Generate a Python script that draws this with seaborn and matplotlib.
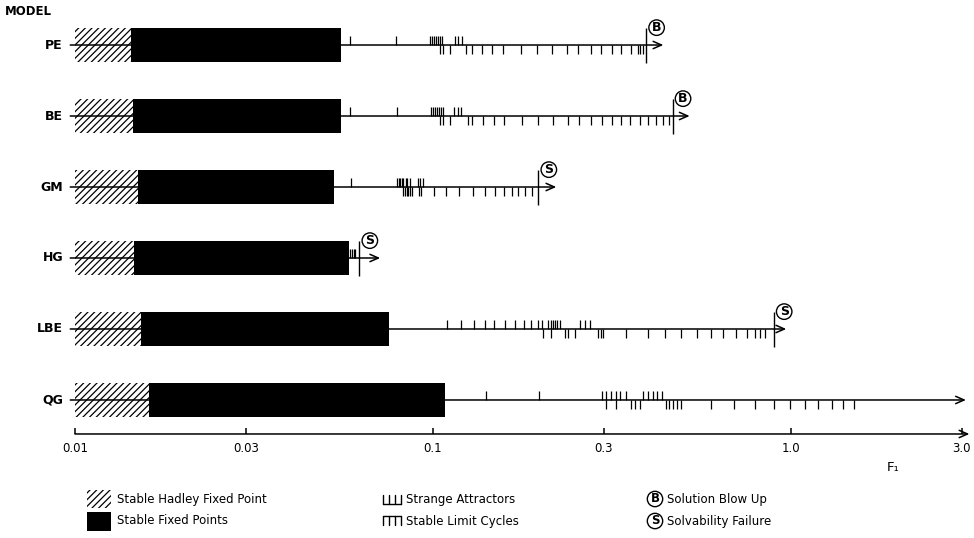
import matplotlib
matplotlib.use("Agg")
import matplotlib.pyplot as plt
import seaborn as sns
from matplotlib.patches import Rectangle
from matplotlib.lines import Line2D

# ---------------------------------------------------------------------------
# data (F1 values)
# ---------------------------------------------------------------------------
models = ["PE", "BE", "GM", "HG", "LBE", "QG"]

hadley_start = 0.01
hadley_end = [0.0143, 0.0145, 0.0150, 0.0146, 0.0153, 0.0161]
fixed_end = [0.0552, 0.0555, 0.0528, 0.0584, 0.0755, 0.108]
range_end = [0.44, 0.521, 0.221, 0.0712, 0.970, 3.08]
failure_at = [0.394, 0.467, 0.197, 0.0623, 0.895, None]
failure_kind = ["B", "B", "S", "S", "S", None]

# strange attractors (ticks above the line)
pe_attractors = [0.0587, 0.0788, 0.0981, 0.0994, 0.1006, 0.1019, 0.1032, 0.1045, 0.1061,
                 0.1151, 0.1176, 0.1202]
be_attractors = [0.0587, 0.0793, 0.0986, 0.0999, 0.1012, 0.1025, 0.1040, 0.1056, 0.1068,
                 0.1148, 0.1172, 0.1197]
gm_attractors = [0.0591, 0.0793, 0.0801, 0.0810, 0.0819, 0.0827, 0.0840, 0.0848, 0.0861,
                 0.0909, 0.0920, 0.0938]
hg_attractors = [0.0588, 0.0594, 0.0600, 0.0606]
lbe_attractors = [0.1096, 0.1194, 0.1300, 0.1401, 0.1477, 0.1592, 0.1690, 0.1790, 0.1881,
                  0.1961, 0.2012, 0.2100, 0.2131, 0.2159, 0.2192, 0.2225, 0.2263,
                  0.2572, 0.2656, 0.2742]
qg_attractors = [0.1403, 0.1974, 0.2969, 0.3050, 0.3139, 0.3243, 0.3331, 0.3465,
                 0.3868, 0.3999, 0.4105, 0.4225, 0.4348]

# stable limit cycles (ticks below the line)
pe_cycles = [0.1045, 0.1068, 0.1115, 0.1233, 0.1281, 0.1370, 0.1461, 0.1568, 0.1764,
             0.1949, 0.2154, 0.2361, 0.2544, 0.2760, 0.2954, 0.3162, 0.3356, 0.3578,
             0.3735, 0.3790, 0.3855]
be_cycles = [0.1045, 0.1068, 0.1115, 0.1253, 0.1286, 0.1380, 0.1484, 0.1582, 0.1771,
             0.1970, 0.2168, 0.2376, 0.2556, 0.2771, 0.2967, 0.3162, 0.3343, 0.3541,
             0.3776, 0.3981, 0.4200, 0.4384, 0.4576]
gm_cycles = [0.0827, 0.0836, 0.0845, 0.0854, 0.0863, 0.0876, 0.0914, 0.0928, 0.1006,
             0.1085, 0.1181, 0.1294, 0.1401, 0.1487, 0.1575, 0.1661, 0.1733, 0.1809,
             0.1888]
hg_cycles = []
lbe_cycles = [0.2034, 0.2137, 0.2337, 0.2387, 0.2491, 0.2892, 0.2942, 0.2985, 0.3465,
              0.3981, 0.4448, 0.4926, 0.5458, 0.5969, 0.6474, 0.7003, 0.7547, 0.7958,
              0.8216, 0.8483]
qg_cycles = [0.3050, 0.3243, 0.3581, 0.3662, 0.3785, 0.4465, 0.4566, 0.4687, 0.4803,
             0.4929, 0.5973, 0.6940, 0.7958, 0.8948, 0.9924, 1.0957, 1.1916, 1.3016,
             1.4000, 1.4951]

attractors = [pe_attractors, be_attractors, gm_attractors, hg_attractors,
              lbe_attractors, qg_attractors]
cycles = [pe_cycles, be_cycles, gm_cycles, hg_cycles, lbe_cycles, qg_cycles]

axis_ticks = [0.01, 0.03, 0.1, 0.3, 1.0, 3.0]
axis_labels = ["0.01", "0.03", "0.1", "0.3", "1.0", "3.0"]
axis_end = 3.15

# ---------------------------------------------------------------------------
# figure
# ---------------------------------------------------------------------------
sns.set_theme(style="white")
plt.rcParams["font.family"] = ["DejaVu Sans"]
plt.rcParams["text.color"] = "black"
plt.rcParams["hatch.linewidth"] = 0.9

W, H = 974, 538
fig = plt.figure(figsize=(W / 100, H / 100), dpi=100)
ax = fig.add_axes([0, 0, 1, 1])
ax.set_xscale("log")
ax.set_xlim(10 ** (-2 - 75 / 358), 10 ** (-2 + 899 / 358))
ax.set_ylim(6.944, -0.634)
ax.axis("off")
ylab = ax.get_yaxis_transform()

bar_h = 0.49
tick_len = 0.13

for i, model in enumerate(models):
    # row line with arrow
    ax.annotate("", xy=(range_end[i], i), xytext=(0.0097, i),
                arrowprops=dict(arrowstyle="->,head_length=0.5,head_width=0.22",
                                lw=1.1, color="black", shrinkA=0, shrinkB=0),
                zorder=3)
    # hadley region (hatched) and stable fixed points (black)
    ax.barh(i, hadley_end[i] - hadley_start, left=hadley_start, height=bar_h,
            facecolor="none", edgecolor="black", hatch="/////", linewidth=0, zorder=2)
    ax.barh(i, fixed_end[i] - hadley_end[i], left=hadley_end[i], height=bar_h,
            color="black", linewidth=0, zorder=4)
    # regime ticks
    ax.vlines(attractors[i], i - tick_len, i, color="black", lw=0.9, zorder=3)
    ax.vlines(cycles[i], i, i + tick_len, color="black", lw=0.9, zorder=3)
    # failure marker
    if failure_at[i] is not None:
        ax.vlines(failure_at[i], i - 0.24, i + 0.25, color="black", lw=1.0, zorder=3)
        ax.annotate(failure_kind[i], xy=(failure_at[i], i), xytext=(7.5, 12.5),
                    textcoords="offset points", ha="center", va="center", fontsize=9,
                    fontweight="bold",
                    bbox=dict(boxstyle="circle,pad=0.1", fc="white", ec="black", lw=1))
    ax.text(63 / W, i, model, transform=ylab, ha="right", va="center",
            fontsize=9, fontweight="bold")

ax.text(5 / W, -0.47, "MODEL", transform=ylab, ha="left", va="center",
        fontsize=8.5, fontweight="bold")

# bottom F1 axis
axis_y = (434 - 45) / 71
ax.annotate("", xy=(axis_end, axis_y), xytext=(0.01, axis_y),
            arrowprops=dict(arrowstyle="->,head_length=0.5,head_width=0.22",
                            lw=1.1, color="black", shrinkA=0, shrinkB=0))
ax.vlines(axis_ticks, axis_y - 0.09, axis_y, color="black", lw=1.1)
for v, lab in zip(axis_ticks, axis_labels):
    ax.text(v, axis_y + 0.2, lab, ha="center", va="center", fontsize=8.5)
ax.text(893 / W, (468 - 45) / 71, "F₁", transform=ylab, ha="center", va="center",
        fontsize=9.5)


# ---------------------------------------------------------------------------
# legend (figure pixel coordinates)
# ---------------------------------------------------------------------------
def fx(px):
    return px / W


def fy(py):
    return 1 - py / H


fig.add_artist(Rectangle((fx(87), fy(508)), 24 / W, 18 / H, transform=fig.transFigure,
                         facecolor="none", edgecolor="black", hatch="/////", lw=0))
fig.add_artist(Rectangle((fx(87), fy(531)), 24 / W, 19 / H, transform=fig.transFigure,
                         facecolor="black", edgecolor="black", lw=0))
fig.text(fx(117), fy(499), "Stable Hadley Fixed Point", ha="left", va="center", fontsize=8.5)
fig.text(fx(117), fy(521), "Stable Fixed Points", ha="left", va="center", fontsize=8.5)

# strange attractor glyph (ticks up from a base line)
sx = [383, 389, 395, 401]
fig.add_artist(Line2D([fx(383), fx(401)], [fy(504), fy(504)], color="black", lw=1,
                      transform=fig.transFigure))
for x in sx:
    fig.add_artist(Line2D([fx(x), fx(x)], [fy(504), fy(495)], color="black", lw=1,
                          transform=fig.transFigure))
# limit cycle glyph (ticks down from a top line)
fig.add_artist(Line2D([fx(383), fx(401)], [fy(516), fy(516)], color="black", lw=1,
                      transform=fig.transFigure))
for x in sx:
    fig.add_artist(Line2D([fx(x), fx(x)], [fy(516), fy(525)], color="black", lw=1,
                          transform=fig.transFigure))
fig.text(fx(406), fy(499), "Strange Attractors", ha="left", va="center", fontsize=8.5)
fig.text(fx(406), fy(521), "Stable Limit Cycles", ha="left", va="center", fontsize=8.5)

for letter, py, lab in [("B", 499, "Solution Blow Up"), ("S", 521, "Solvability Failure")]:
    fig.text(fx(655), fy(py), letter, ha="center", va="center", fontsize=8.5,
             fontweight="bold",
             bbox=dict(boxstyle="circle,pad=0.1", fc="white", ec="black", lw=1))
    fig.text(fx(667), fy(py), lab, ha="left", va="center", fontsize=8.5)

fig.savefig("out.png", dpi=100, facecolor="white")
